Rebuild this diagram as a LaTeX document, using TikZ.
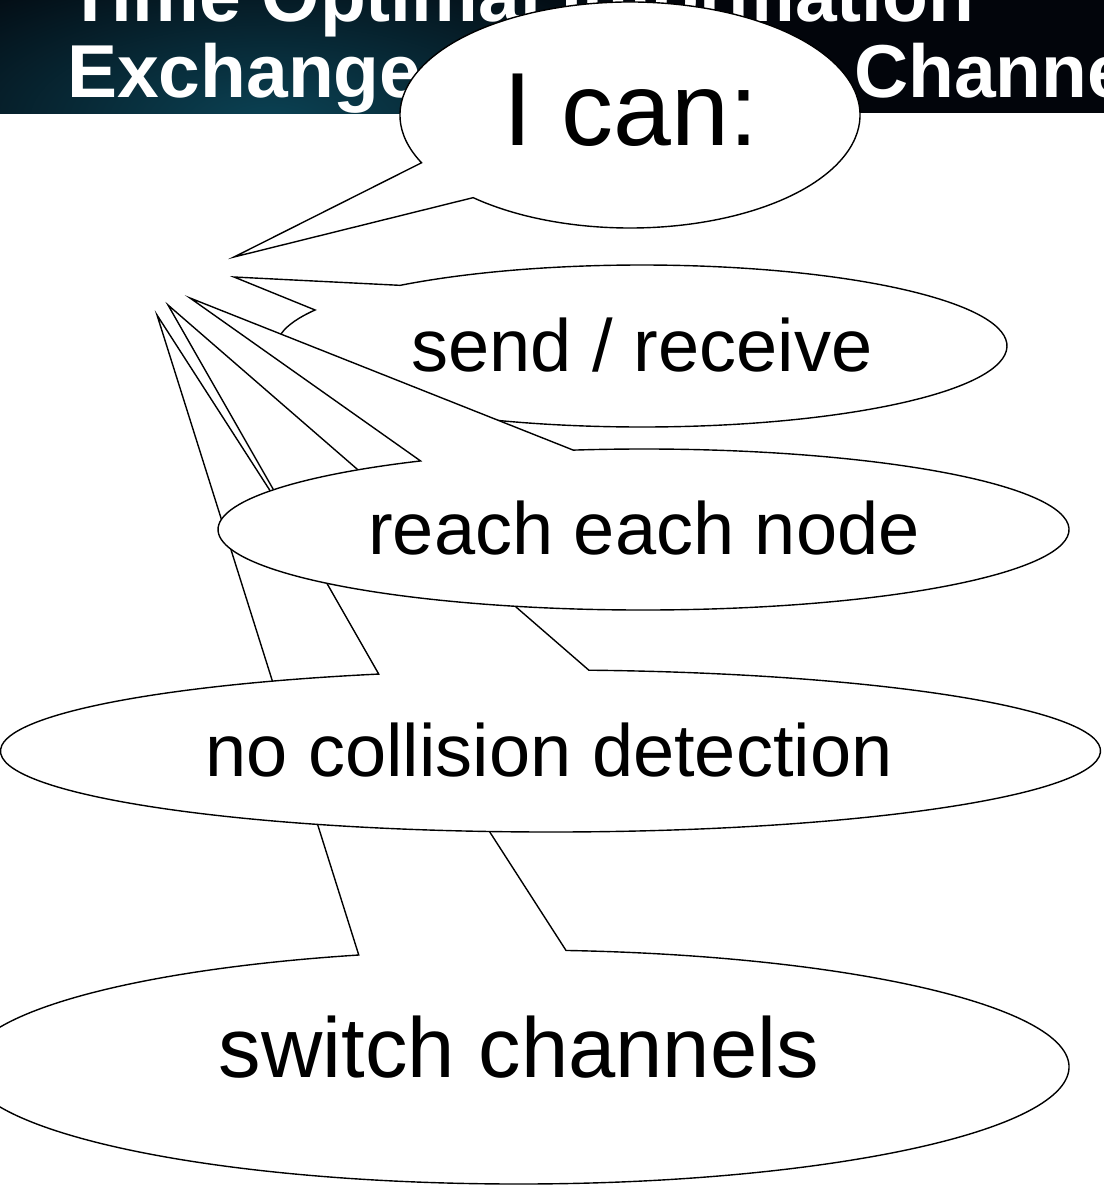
\documentclass[tikz,border=0pt]{standalone}
\usepackage{fontspec}
\setmainfont{Liberation Sans}
\usetikzlibrary{calc}
\definecolor{bannerbg}{HTML}{02050B}
\definecolor{glow}{HTML}{0B4254}
\definecolor{glowtwo}{HTML}{0C2230}
\tikzset{
  callout/.style={draw=black, fill=white, line width=1.4pt, line join=miter},
  calltext/.style={inner sep=0pt, text=black, font=\fontsize{74}{80}\selectfont},
  titletext/.style={inner sep=0pt, anchor=base west, text=white, font=\fontsize{75}{80}\selectfont\bfseries},
}
\begin{document}
\begin{tikzpicture}[x=1pt,y=-1pt]
\useasboundingbox (0,0) rectangle (1104,1189);
\clip (0,0) rectangle (1104,1189);
% banner
\fill[bannerbg] (0,0) rectangle (1104,113);
\begin{scope}
  \clip (0,0) rectangle (1104,113);
  \shade[inner color=glowtwo, outer color=bannerbg] (10,50) ellipse [x radius=220pt, y radius=150pt];
  \shade[inner color=glow, outer color=bannerbg] (270,120) ellipse [x radius=480pt, y radius=190pt];
\end{scope}
\node[titletext] (title1) at (67,21) {Time Optimal Information};
\node[titletext] (title2a) at (67,97) {Exchange};
\node[titletext] (title2b) at (854,97) {Channels};

% callout 1
\coordinate (c1) at (630,115);
\coordinate (t1) at (234,257);
\filldraw[callout] (t1) -- ($(c1)+(205:230pt and 113pt)$)
  arc[start angle=205, end angle=-133, x radius=230pt, y radius=113pt] -- cycle;
\node[calltext, font=\fontsize{104}{110}\selectfont] (n1) at (631,110) {I can:};

% callout 2
\coordinate (c2) at (642,346);
\coordinate (t2) at (234,277);
\filldraw[callout] (t2) -- ($(c2)+(131.5:365pt and 81pt)$)
  arc[start angle=131.5, end angle=-206.4, x radius=365pt, y radius=81pt] -- cycle;
\node[calltext] (n2) at (642,345) {send / receive};

% callout 5
\coordinate (c5) at (518,1067);
\coordinate (t5) at (157,315);
\filldraw[callout] (t5) -- ($(c5)+(85:551pt and 117pt)$)
  arc[start angle=85, end angle=-253.2, x radius=551pt, y radius=117pt] -- cycle;
\node[calltext, font=\fontsize{85}{90}\selectfont] (n5) at (519,1047) {switch channels};

% callout 4
\coordinate (c4) at (550.5,751);
\coordinate (t4) at (168,305);
\filldraw[callout] (t4) -- ($(c4)+(86:550pt and 81pt)$)
  arc[start angle=86, end angle=-251.8, x radius=550pt, y radius=81pt] -- cycle;
\node[calltext] (n4) at (549,750) {no collision detection};

% callout 3
\coordinate (c3) at (643.5,529.5);
\coordinate (t3) at (190,298);
\filldraw[callout] (t3) -- ($(c3)+(99.5:425.5pt and 80.5pt)$)
  arc[start angle=99.5, end angle=-238.4, x radius=425.5pt, y radius=80.5pt] -- cycle;
\node[calltext] (n3) at (644,528) {reach each node};
\end{tikzpicture}
\end{document}
